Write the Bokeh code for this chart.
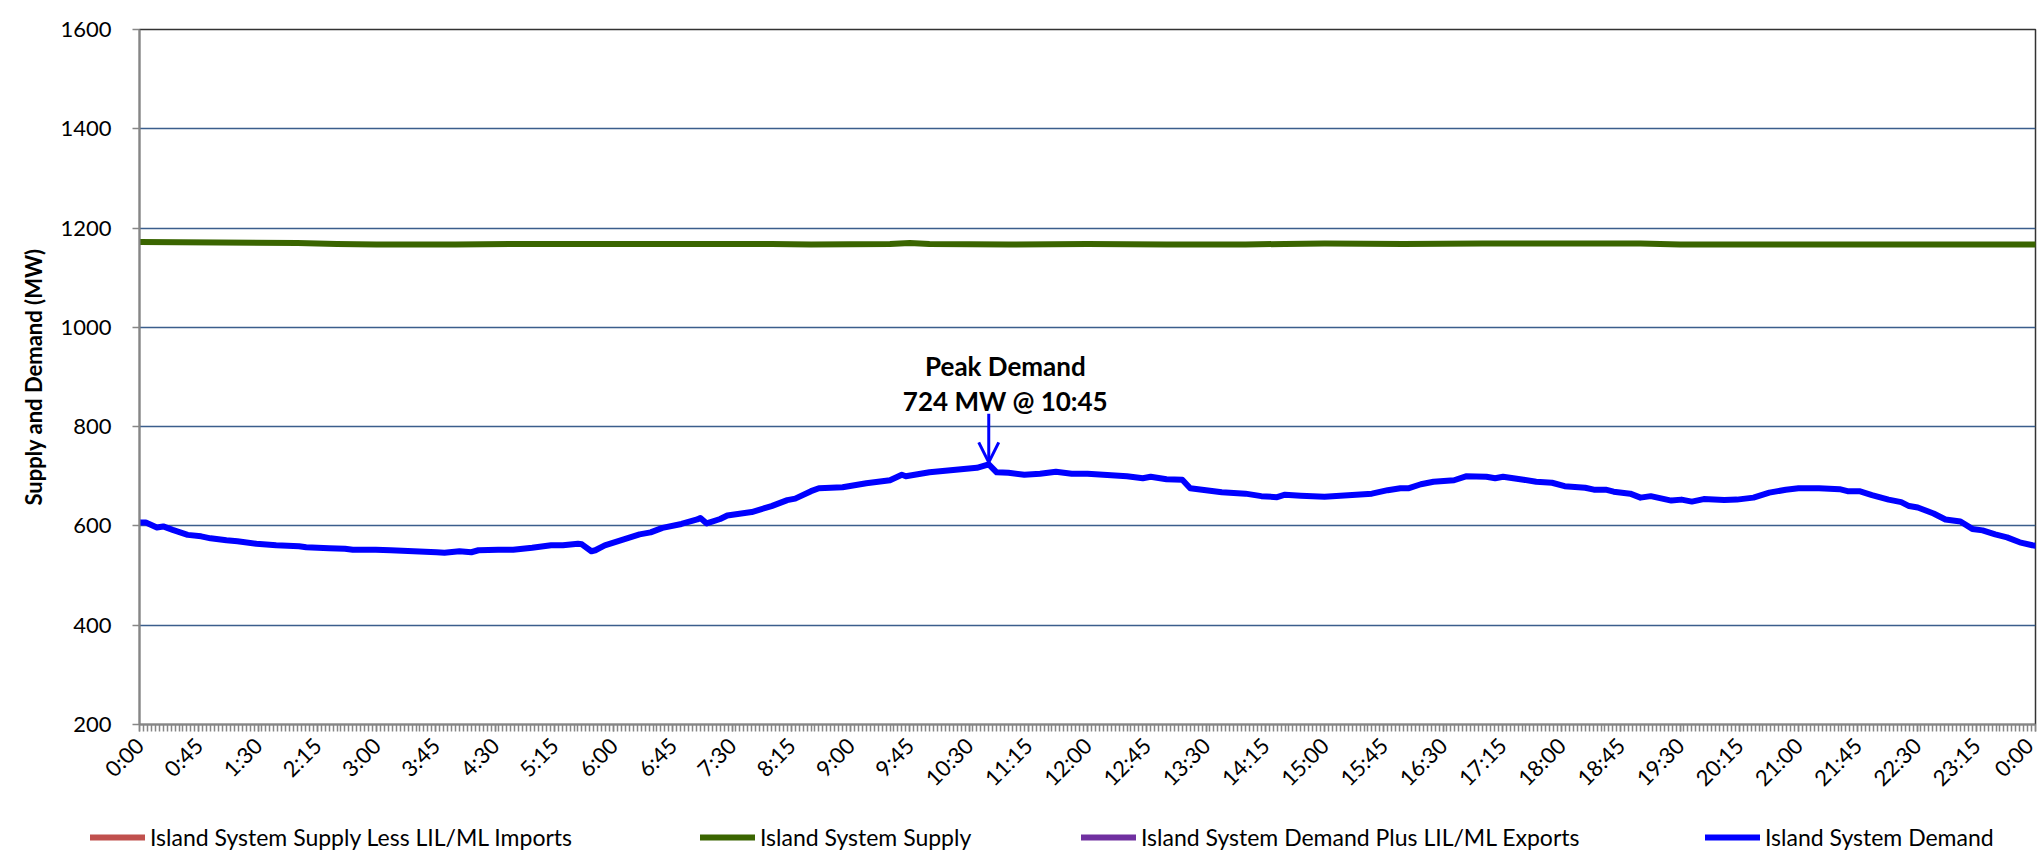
from bokeh.plotting import figure
from bokeh.layouts import column, row
from bokeh.models import Range1d, FixedTicker, Legend, LegendItem, Label, Arrow, OpenHead
from bokeh.embed import file_html
from bokeh.resources import INLINE

# ---------------- data ----------------
tick_labels = ["0:00", "0:45", "1:30", "2:15", "3:00", "3:45", "4:30", "5:15", "6:00", "6:45",
               "7:30", "8:15", "9:00", "9:45", "10:30", "11:15", "12:00", "12:45", "13:30", "14:15",
               "15:00", "15:45", "16:30", "17:15", "18:00", "18:45", "19:30", "20:15", "21:00",
               "21:45", "22:30", "23:15", "0:00"]

demand_hours = [0.00, 0.08, 0.22, 0.30, 0.42, 0.61, 0.78, 0.90, 1.10, 1.24, 1.48, 1.73, 2.02, 2.11,
                2.40, 2.60, 2.70, 2.99, 3.18, 3.47, 3.76, 3.86, 4.05, 4.20, 4.29, 4.54, 4.73, 4.97,
                5.21, 5.36, 5.55, 5.60, 5.72, 5.77, 5.89, 6.09, 6.33, 6.47, 6.62, 6.86, 7.06, 7.10,
                7.18, 7.35, 7.44, 7.75, 8.00, 8.20, 8.30, 8.50, 8.60, 8.90, 9.20, 9.50, 9.65, 9.70,
                10.00, 10.20, 10.40, 10.60, 10.75, 10.85, 11.00, 11.20, 11.40, 11.60, 11.80, 12.00,
                12.30, 12.50, 12.70, 12.80, 13.00, 13.20, 13.30, 13.50, 13.70, 14.00, 14.20, 14.40,
                14.50, 14.70, 15.00, 15.30, 15.60, 15.80, 15.96, 16.07, 16.22, 16.38, 16.64, 16.79,
                17.05, 17.16, 17.26, 17.52, 17.68, 17.88, 18.04, 18.30, 18.41, 18.56, 18.66, 18.87,
                19.00, 19.13, 19.39, 19.52, 19.65, 19.80, 20.06, 20.22, 20.43, 20.63, 20.84, 21.00,
                21.26, 21.52, 21.62, 21.77, 21.93, 22.14, 22.30, 22.40, 22.51, 22.71, 22.86, 23.05,
                23.20, 23.33, 23.49, 23.64, 23.80, 23.96, 24.00]
demand_mw = [607, 607, 597, 599, 592, 582, 579, 575, 571, 569, 564, 561, 559, 557,
             555, 554, 552, 552, 551, 549, 547, 546, 549, 547, 551, 552, 552, 556,
             561, 561, 564, 563, 549, 551, 561, 571, 583, 587, 596, 604, 613, 616,
             605, 614, 621, 628, 640, 652, 655, 670, 676, 678, 686, 692, 703, 700,
             708, 711, 714, 717, 724, 708, 707, 703, 705, 709, 705, 705,
             702, 700, 696, 699, 694, 693, 676, 672, 668, 665, 660, 658,
             663, 661, 659, 662, 665, 672, 676, 676, 684, 689, 692, 700,
             699, 696, 699, 693, 689, 687, 680, 677, 673, 673, 669, 665,
             657, 660, 651, 653, 649, 654, 652, 653, 657, 667, 673, 676,
             676, 674, 670, 670, 662, 653, 648, 640, 637, 625, 613, 609,
             594, 591, 583, 577, 567, 561, 560]

supply_hours = [0, 1, 2, 2.5, 3, 4, 5, 6, 7, 8, 8.5, 9.5, 9.75, 10, 11, 12, 13, 14, 14.5, 15,
                16, 17, 18, 19, 19.5, 20, 21, 22, 23, 24]
supply_mw = [1172, 1171, 1170, 1168, 1167, 1167, 1168, 1168, 1168, 1168, 1167, 1168, 1170, 1168,
             1167, 1168, 1167, 1167, 1168, 1169, 1168, 1169, 1169, 1169, 1167, 1167, 1167, 1167,
             1167, 1167]

series_names = ["Island System Supply Less LIL/ML Imports", "Island System Supply",
                "Island System Demand Plus LIL/ML Exports", "Island System Demand"]
series_colors = ["#c0504d", "#3a6500", "#7030a0", "#0000ff"]

peak_hour = 10.75
peak_mw = 724
peak_text = ["Peak Demand", "724 MW @ 10:45"]

FONT = "Lato"
NAN = float("nan")

# ---------------- main figure ----------------
p = figure(width=2038, height=803, output_backend="svg", toolbar_location=None,
           x_range=Range1d(0, 24), y_range=Range1d(200, 1600),
           min_border_left=139, min_border_right=3, min_border_top=29, min_border_bottom=74)
p.background_fill_color = "white"
p.border_fill_color = "white"
p.outline_line_color = "#333333"
p.outline_line_width = 1.5

major = [i * 0.75 for i in range(len(tick_labels))]
minor = [i * 0.05 for i in range(481)]
p.xaxis.ticker = FixedTicker(ticks=major, minor_ticks=minor)
p.xaxis.major_label_overrides = {m: lab for m, lab in zip(major, tick_labels)}
p.xaxis.major_label_orientation = 0.785398
p.yaxis.ticker = FixedTicker(ticks=[200, 400, 600, 800, 1000, 1200, 1400, 1600])

for ax in (p.xaxis[0], p.yaxis[0]):
    ax.axis_line_color = "#868686"
    ax.axis_line_width = 2
    ax.major_tick_line_color = "#868686"
    ax.minor_tick_line_color = "#868686"
    ax.major_tick_line_width = 1.5
    ax.minor_tick_line_width = 1.5
    ax.major_tick_in = 0
    ax.minor_tick_in = 0
    ax.major_tick_out = 7
    ax.minor_tick_out = 7
    ax.major_label_text_font = FONT
    ax.major_label_text_font_size = "22px"
    ax.major_label_text_color = "#000000"

p.yaxis.minor_tick_out = 0
p.yaxis.major_label_standoff = 21
p.xaxis.major_label_standoff = 10
p.yaxis.axis_label = "Supply and Demand (MW)"
p.yaxis.axis_label_text_font = FONT
p.yaxis.axis_label_text_font_style = "bold"
p.yaxis.axis_label_text_font_size = "22px"
p.yaxis.axis_label_text_color = "#000000"
p.yaxis.axis_label_standoff = 10

p.xgrid.grid_line_color = None
p.ygrid.grid_line_color = "#3b5e8c"
p.ygrid.grid_line_width = 1.4

p.line(supply_hours, supply_mw, line_color=series_colors[1], line_width=6,
       line_cap="round", line_join="round")
p.line(demand_hours, demand_mw, line_color=series_colors[3], line_width=6,
       line_cap="round", line_join="round")

p.add_layout(Arrow(end=OpenHead(line_color="#0000ff", line_width=3, size=20),
                   x_start=peak_hour, y_start=peak_mw + 102, x_end=peak_hour, y_end=peak_mw + 4,
                   line_color="#0000ff", line_width=3))
p.add_layout(Label(x=peak_hour + 0.21, y=922, text=peak_text[0], text_align="center",
                   text_baseline="alphabetic", text_font=FONT, text_font_style="bold",
                   text_font_size="26px", text_color="#000000"))
p.add_layout(Label(x=peak_hour + 0.21, y=852, text=peak_text[1], text_align="center",
                   text_baseline="alphabetic", text_font=FONT, text_font_style="bold",
                   text_font_size="26px", text_color="#000000"))

# ---------------- legend strip ----------------
lg = figure(width=2038, height=50, output_backend="svg", toolbar_location=None,
            x_range=Range1d(0, 2038), y_range=Range1d(0, 50),
            x_axis_location=None, y_axis_location=None,
            min_border_left=0, min_border_right=0, min_border_top=0, min_border_bottom=0)
lg.outline_line_color = None
lg.grid.visible = False
legend_x = [90, 700, 1081, 1705]
for name, color, lx in zip(series_names, series_colors, legend_x):
    r = lg.line(x=[NAN], y=[NAN], line_color=color, line_width=6, line_cap="round")
    leg = Legend(items=[LegendItem(label=name, renderers=[r])], location=(lx, 2),
                 orientation="horizontal", glyph_width=55, glyph_height=26, label_height=26,
                 label_standoff=5, padding=0, margin=0, spacing=0,
                 border_line_color=None, background_fill_alpha=0,
                 label_text_font=FONT, label_text_font_size="23px", label_text_color="#000000")
    lg.add_layout(leg, "center")

open("out.html", "w").write(file_html(column(p, row(lg), spacing=0), INLINE))
